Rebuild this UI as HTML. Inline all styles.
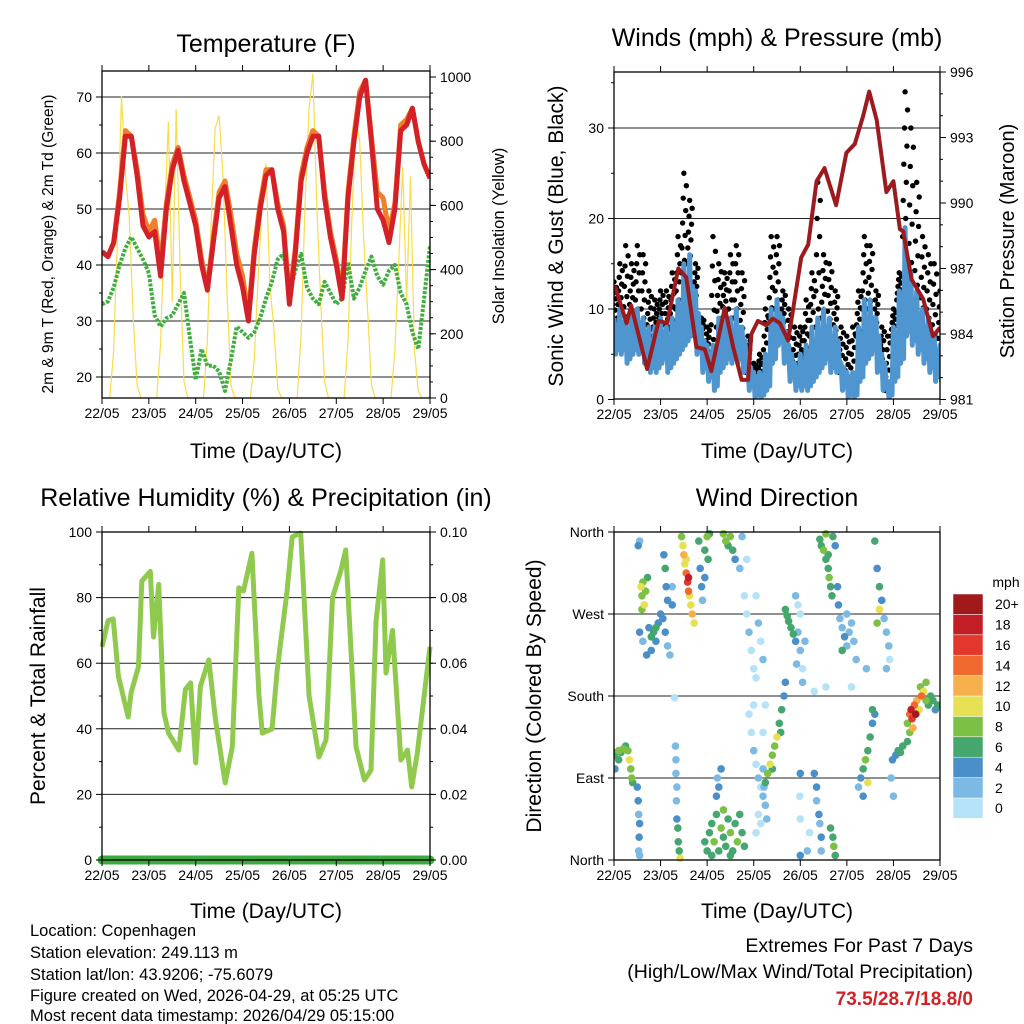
<!DOCTYPE html>
<html><head><meta charset="utf-8">
<style>
html,body{margin:0;padding:0;background:#fff;}
svg{display:block;font-family:"Liberation Sans",Arial,sans-serif;}
</style></head>
<body>
<svg id="chart" width="1024" height="1024" viewBox="0 0 1024 1024" xmlns="http://www.w3.org/2000/svg">
<rect width="1024" height="1024" fill="#fff"/>
<g id="g1"></g>
<g id="g2"></g>
<g id="g3"></g>
<g id="g4"></g>
<g id="info">
<text x="30" y="936" font-size="16.5">Location: Copenhagen</text>
<text x="30" y="958" font-size="16.5">Station elevation: 249.113 m</text>
<text x="30" y="980" font-size="16.5">Station lat/lon: 43.9206; -75.6079</text>
<text x="30" y="1001" font-size="16.5">Figure created on Wed, 2026-04-29, at 05:25 UTC</text>
<text x="30" y="1021" font-size="16.5">Most recent data timestamp: 2026/04/29 05:15:00</text>
<text x="973" y="952" font-size="19.5" text-anchor="end">Extremes For Past 7 Days</text>
<text x="973" y="978" font-size="19.5" text-anchor="end">(High/Low/Max Wind/Total Precipitation)</text>
<text x="973" y="1005" font-size="19" font-weight="bold" fill="#d42027" text-anchor="end">73.5/28.7/18.8/0</text>
</g>
</svg>
<script>
// ---------- data ----------
const dayLabels = ["22/05","23/05","24/05","25/05","26/05","27/05","28/05","29/05"];
// temperature, 3-hourly from 22/05 00 UTC
const tempRed = [42.4,41.5,44,52,63,63,56,47, 45,46,38,50,57,60.5,55,51, 47,40,35.5,44,52,54,47,40, 36,30,42,50,56,57,50,46, 33,42,55,60,63,63,52,45, 40,34,52,62,70,73,62,50, 48,44,50,64,65,68,62,58, 55.5];
const tempOrange = [42.4,41.5,44,53,64,63,57,49, 46,48,40,51,58,61,56,52, 48,41,36,45,53,55,49,42, 38,31,43,51,57,57,51,47, 34,43,56,61,64,63,53,46, 41,35,53,63,71,73,63,53, 52,46,51,65,66,68,62,58, 55.5];
const dewGreen = [33,33.5,36,40,43,45,43,41, 38.5,31,29,30.5,31,33,35,27, 19.5,25,22,22,21,17.5,23,29, 28,27,28,30.5,34,37,41,42, 35,39,42,36,34,33,37,35, 33,34,40.5,34,36,39,41.5,38, 36.5,39,40,35,33,28,25,34, 43.5];
// solar insolation, 2-hourly
const solar = [0,0,0,150,520,940,700,560,250,40,0,0, 0,0,0,170,560,860,300,900,400,50,0,0, 0,0,0,180,560,840,880,690,330,40,0,0, 0,0,0,120,380,600,730,350,220,30,0,0, 0,0,0,200,600,900,1010,600,300,50,0,0, 0,0,0,180,560,870,800,500,280,40,0,0, 0,0,0,150,430,720,300,690,150,20,0,0, 0];
// winds, 3-hourly
const windLo = [5,5,4,5,5,4,3,3, 4,3,4,5,6,7,5,3, 2,1,3,4,4,4,3,1, 0,0,1,4,6,4,2,1, 1,1,2,3,4,3,3,1, 0,0,2,4,5,3,1,0, 2,4,7,6,5,4,3,2, 2];
const windHi = [9,10,9,10,10,9,8,8, 9,8,9,11,15,16,12,8, 6,6,9,10,9,10,8,4, 3,3,5,10,11,9,6,4, 5,6,8,9,10,9,8,4, 3,3,8,11,11,9,5,2, 8,12,19,14,12,10,9,7, 6];
const gustHi = [13,15,17,15,17,16,12,11, 12,12,14,18,25,22,15,9, 8,18,15,14,16,17,14,7, 4,5,10,18,18,12,10,8, 8,11,14,24,16,15,12,8, 7,8,12,18,17,12,8,7, 10,14,34,30,24,18,16,15, 12];
const presTime = [0.02,0.27,0.37,0.71,0.96,1.14,1.38,1.55,1.77,1.95,2.09,2.38,2.56,2.74,2.88,2.95,3.09,3.27,3.41,3.56,3.74,4.02,4.17,4.35,4.52,4.77,4.99,5.17,5.35,5.48,5.64,5.85,6.0,6.14,6.21,6.39,6.64,6.85,7.0];
const presVal = [986.2,984.5,985.3,982.4,984.6,984.5,987,986.6,983.4,983.3,982.3,985.2,983.4,981.9,981.9,984,984.6,984.4,984.7,984.5,983.7,987.5,988.1,991,991.6,989.9,992.3,992.7,994,995.1,993.8,990.5,991,988.8,988.7,986.5,985.6,983.9,984.3];
// relative humidity
const rhTime = [0,0.13,0.24,0.35,0.56,0.62,0.78,0.85,1.03,1.1,1.21,1.32,1.42,1.64,1.78,1.89,2.0,2.1,2.28,2.42,2.63,2.78,2.92,3.02,3.2,3.35,3.42,3.63,3.74,3.95,4.06,4.24,4.42,4.63,4.78,4.92,5.1,5.2,5.31,5.42,5.6,5.74,5.85,5.99,6.06,6.2,6.38,6.52,6.61,6.73,7.0];
const rhVal = [65,73,73.5,56,43.6,51,59,85,88,68,84,45,38.7,33.5,52,54,29.6,53,61,43,23.5,34.5,83,82,93.5,50,38.7,40,58,82,98.5,99.7,50,31.4,36.6,80,88.4,94.5,65,34.5,24.4,27.4,73,91.5,57,70,30.5,33.5,22.3,32.6,65];
const precipTime = [0,7];
const precipVal = [0,0];
// wind direction scatter
const dirTime = [0,0.05,0.1,0.15,0.2,0.25,0.3,0.33,0.36,0.38,0.4,0.02,0.1, 0.5,0.52,0.53,0.55,0.54,0.53,0.55, 0.58,0.6,0.62,0.65,0.68,0.72,0.6, 0.55,0.62,0.75,0.8,0.85,0.9,0.95,1.0,1.1,1.15,1.2,0.7,0.8,0.9,1.05, 0.55,0.52, 1.07,1.1,1.12,1.15,1.25,1.25, 1.32,1.33,1.33,1.35,1.34,1.35,1.37,1.38,1.4,1.42, 1.3, 1.45,1.48,1.5,1.52,1.55,1.58,1.6,1.62,1.65,1.68,1.72,1.55,1.6, 1.82,1.85,1.88,1.9,1.95,2.0,2.02,1.95,2.05, 1.95,2.0,2.05,2.1,2.15,2.2,2.25,2.3,2.35,2.4,2.45,2.5,2.55,2.6,2.65,2.7,2.75,2.8,2.1,2.35,2.5,2.2,2.25,2.22,2.3, 2.35,2.4,2.45,2.5,2.55,2.6,2.7,2.75, 2.8,2.85,2.9,2.95,3.0,3.05,2.9,2.95,3.0,3.05,3.1,3.15,3.2,3.1,3.05,3.15,2.85,3.05,3.1,3.15,3.2,3.25,3.2,3.0, 3.25,3.3,3.35,3.4,3.45,3.5,3.55,3.6,3.65,3.68,3.58,3.4, 3.2,3.22,3.25,3.28, 3.68,3.72,3.75,3.8,3.85,3.9, 3.9,3.95,4.0,3.95,4.0,4.05,4.05,4.1,3.92, 4.0,4.3,4.35,4.35,4.4,4.42,4.45,4.45,3.99,4.0,4.0,4.15,4.2, 4.42,4.45,4.5,4.55,4.6,4.62,4.65,4.7,4.75,4.55,4.68,4.6, 4.65,4.7,4.72,4.75, 4.82,4.85,4.9,4.95,5.0,5.05,5.1,5.15,4.9,5.2,5.0,4.8, 5.25,5.3,5.35,5.4,5.45,5.5,5.55,5.6,5.35,5.45,5.55, 5.6,5.65,5.7,5.75,5.65,5.7, 5.8,5.85,5.9,5.92,5.85, 5.98,6.05,6.1,6.15,6.2,6.3,6.35,5.95,6.0, 6.3,6.35,6.38,6.4,6.45,6.5,6.55,6.6,6.65,6.7,6.75,6.8,6.85,6.9,6.95,6.42,6.48,6.58,6.7, 4.3,4.55,5.42,5.1];
const dirDeg = [115,118,120,118,122,125,120,110,100,90,85,100,110, 80,65,50,40,25,10,5, 300,290,305,280,295,310,275, 250,240,255,245,250,240,260,270,250,235,225,225,230,255,265, 350,345, 335,320,300,285,300,280, 125,110,95,80,65,45,35,20,10,2, 178, 355,345,335,325,315,305,295,290,280,270,260,330,310, 350,320,300,285,340,355,330,310,358, 20,10,30,40,20,50,10,35,25,15,45,30,10,40,20,50,30,15,5,55,5,70,80,90,100, 358,350,345,355,340,330,320,355, 290,270,250,230,210,200,160,140,120,105,90,80,70,50,30,40,330,290,260,240,220,170,140,170, 85,95,105,115,125,135,150,165,180,195,140,100, 100,80,60,45, 275,268,262,255,248,240, 290,280,270,250,230,210,195,240,215, 95,95,80,65,50,40,25,10,70,45,5,10,30, 352,345,340,330,320,310,300,355,345,358,290,335, 35,25,15,5, 280,265,255,245,235,250,260,240,230,220,270,300, 80,90,100,110,120,135,150,160,70,85,165, 350,320,300,285,260,275, 265,250,235,220,210, 110,115,120,118,125,130,140,90,70, 150,160,165,155,170,175,165,180,185,175,170,180,175,165,170,145,160,190,195, 185,190,210,190];
const dirSpd = [7,7,8,7,8,7,9,10,9,8,6,5,6, 4,5,3,4,4,3,3, 10,9,8,10,9,7,8, 4,3,5,6,7,5,4,4,4,3,3,4,5,6,5, 3,4, 4,6,5,4,3,4, 2,3,2,2,3,5,6,6,7,10, 1, 8,10,12,11,14,16,14,11,10,12,10,10,18, 6,5,4,3,7,8,6,5,7, 6,7,7,6,8,7,6,8,7,6,7,8,7,6,9,6,7,6,6,8,7,5,4,3,4, 8,8,7,9,6,4,3,3, 1,1,2,1,1,0,1,1,2,1,2,1,2,1,0,1,0,1,2,1,2,0,1,0, 7,8,10,9,8,10,7,6,5,4,6,6, 3,3,2,3, 6,7,6,7,6,5, 2,1,1,3,2,1,2,3,3, 4,4,4,3,4,3,4,3,1,1,4,2,1, 6,7,8,7,6,8,7,6,5,9,6,7, 6,7,8,6, 4,3,2,4,3,2,3,2,6,3,2,4, 3,4,6,8,7,6,5,4,5,10,7, 6,5,7,4,8,10, 2,3,2,1,2, 4,5,6,7,6,7,8,3,3, 9,14,18,16,14,12,10,14,10,8,6,7,6,5,6,13,20,9,8, 1,1,2,1];
const speedColors = ["#b5e2f7","#7cb9e3","#4a8fc9","#45a66e","#7cc045","#e6e052","#f6b04b","#f0692e","#e3362c","#c21e26","#a01a1c"];
const speedLabels = ["0","2","4","6","8","10","12","14","16","18","20+"];

// ---------- helpers ----------
const NS = "http://www.w3.org/2000/svg";
function mk(parent, tag, attrs, txt){
  const e = document.createElementNS(NS, tag);
  for (const k in attrs) e.setAttribute(k, attrs[k]);
  if (txt !== undefined) e.textContent = txt;
  parent.appendChild(e);
  return e;
}
function lin(d0,d1,r0,r1){ return v => r0 + (v-d0)*(r1-r0)/(d1-d0); }

function frame(g, X0, X1, Y0, Y1, xs, title, titleY, xtitleY){
  for (let d=0; d<=7; d++){
    const x = xs(d);
    const t1 = mk(g,"line",{x1:x,x2:x,y1:Y1,y2:Y1+6,stroke:"#000","stroke-width":1});
    
    
    mk(g,"line",{x1:x,x2:x,y1:Y0,y2:Y0-6,stroke:"#000","stroke-width":1});
    const lb = mk(g,"text",{x:x,y:Y1+20,"font-size":14,"text-anchor":"middle"},dayLabels[d]);
    
    
  }
  const tt = mk(g,"text",{x:(X0+X1)/2,y:titleY,"font-size":25,"text-anchor":"middle"},title);
  
  
  const xt = mk(g,"text",{x:(X0+X1)/2,y:xtitleY,"font-size":21,"text-anchor":"middle"},"Time (Day/UTC)");
  
  
}
function border(g,X0,X1,Y0,Y1){
  const b = mk(g,"rect",{x:X0,y:Y0,width:X1-X0,height:Y1-Y0,fill:"none",stroke:"#000","stroke-width":1.3});
  
  
}
function yTicks(g, side, X, ys, majors, minors, labels, fs){
  const dir = side==="left" ? -1 : 1;
  minors.forEach(v=>{ const y=ys(v); mk(g,"line",{x1:X,x2:X+dir*3,y1:y,y2:y,stroke:"#000","stroke-width":1}); });
  majors.forEach((v,i)=>{
    const y=ys(v);
    mk(g,"line",{x1:X,x2:X+dir*6,y1:y,y2:y,stroke:"#000","stroke-width":1});
    const t = mk(g,"text",{x:X+dir*10,y:y+5,"font-size":fs||14,"text-anchor":side==="left"?"end":"start"},labels[i]);
    
    
  });
}
function grid(g,X0,X1,ys,vals){
  vals.forEach(v=>{
    const l = mk(g,"line",{x1:X0,x2:X1,y1:ys(v),y2:ys(v),stroke:"#222","stroke-width":1});
    
    
  });
}
function vtitle(g,x,y,txt,fs,name){
  const t = mk(g,"text",{x:x,y:y,"font-size":fs,"text-anchor":"middle",transform:`rotate(-90 ${x} ${y})`},txt);
  
  
}
function path(pts){ return pts.map((p,i)=>(i?"L":"M")+p[0].toFixed(1)+","+p[1].toFixed(1)).join(""); }
function range(a,b,s){ const r=[]; for(let v=a; v<=b+1e-9; v+=s) r.push(+v.toFixed(4)); return r; }

// ---------- panel 1: temperature ----------
(function(){
  const g = document.getElementById("g1");
  const X0=102,X1=430,Y0=71,Y1=398;
  const xs = lin(0,7,X0,X1);
  const ys = lin(20,70,377,97);
  const ysr = lin(0,1000,398,77);
  const clip = mk(g,"clipPath",{id:"c1"}); mk(clip,"rect",{x:X0,y:Y0,width:X1-X0,height:Y1-Y0});
  grid(g,X0,X1,ys,[20,30,40,50,60,70]);
  const pg = mk(g,"g",{"clip-path":"url(#c1)"});
  const sp = mk(pg,"path",{d:path(solar.map((v,i)=>[xs(i/12),ysr(v)])),fill:"none",stroke:"#f7dd4a","stroke-width":1.2});
  
  
  const gp = mk(pg,"path",{d:path(dewGreen.map((v,i)=>[xs(i/8),ys(v)])),fill:"none",stroke:"#3fae3f","stroke-width":4,"stroke-dasharray":"3 1.5","stroke-linejoin":"round"});
  
  
  const op = mk(pg,"path",{d:path(tempOrange.map((v,i)=>[xs(i/8),ys(v)])),fill:"none",stroke:"#f07f2a","stroke-width":5,"stroke-linejoin":"round"});
  
  
  const rp = mk(pg,"path",{d:path(tempRed.map((v,i)=>[xs(i/8),ys(v)])),fill:"none",stroke:"#d42027","stroke-width":5,"stroke-linejoin":"round"});
  
  
  border(g,X0,X1,Y0,Y1);
  yTicks(g,"left",X0,ys,[20,30,40,50,60,70],[25,35,45,55,65],["20","30","40","50","60","70"]);
  yTicks(g,"right",X1,ysr,[0,200,400,600,800,1000],range(50,950,50),["0","200","400","600","800","1000"]);
  frame(g,X0,X1,Y0,Y1,xs,"Temperature (F)",52,458);
  vtitle(g,53,244,"2m & 9m T (Red, Orange) & 2m Td (Green)",15.5,"y-axis-title-left");
  vtitle(g,504,236,"Solar Insolation (Yellow)",16.5,"y-axis-title-right");
})();

// ---------- panel 2: winds ----------
(function(){
  const g = document.getElementById("g2");
  const X0=614,X1=940,Y0=72,Y1=399;
  const xs = lin(0,7,X0,X1);
  const ys = lin(0,30,399.5,128);
  const ysr = lin(981,996,399.5,72);
  const clip = mk(g,"clipPath",{id:"c2"}); mk(clip,"rect",{x:X0,y:Y0,width:X1-X0,height:Y1-Y0});
  grid(g,X0,X1,ys,[10,20,30]);
  const pg = mk(g,"g",{"clip-path":"url(#c2)"});
  gustHi.forEach((v,i)=>{
    const lo = windHi[i]-1;
    for (let k=0;k<9;k++){
      const val = lo + (v-lo)*k/8;
      const dt = ((k*5)%9-4)/9*0.12;
      const c = mk(pg,"circle",{cx:xs(i/8+dt),cy:ys(val),r:2.7,fill:"#000"});
      
      
    }
  });
  const zz = [];
  windLo.forEach((v,i)=>{ zz.push([xs(i/8),ys(windHi[i])]); zz.push([xs(i/8+1/32),ys(v)]); zz.push([xs(i/8+1/16),ys((v+windHi[i])/2+1)]); zz.push([xs(i/8+3/32),ys(v+0.5)]); });
  const bp = mk(pg,"path",{d:path(zz),fill:"none",stroke:"#4f95d0","stroke-width":5,"stroke-linejoin":"round"});
  
  
  const pp = mk(pg,"path",{d:path(presVal.map((v,i)=>[xs(presTime[i]),ysr(v)])),fill:"none",stroke:"#9c1b1e","stroke-width":4,"stroke-linejoin":"round"});
  
  
  border(g,X0,X1,Y0,Y1);
  yTicks(g,"left",X0,ys,[0,10,20,30],[5,15,25,35],["0","10","20","30"]);
  yTicks(g,"right",X1,ysr,[981,984,987,990,993,996],range(982,995,1),["981","984","987","990","993","996"]);
  frame(g,X0,X1,Y0,Y1,xs,"Winds (mph) & Pressure (mb)",46,458);
  vtitle(g,563,236,"Sonic Wind & Gust (Blue, Black)",21,"y-axis-title-left");
  vtitle(g,1014,241,"Station Pressure (Maroon)",20,"y-axis-title-right");
})();

// ---------- panel 3: humidity ----------
(function(){
  const g = document.getElementById("g3");
  const X0=102,X1=430,Y0=532,Y1=860;
  const xs = lin(0,7,X0,X1);
  const ys = lin(0,100,860,532);
  const ysr = lin(0,0.1,860,532);
  grid(g,X0,X1,ys,[20,40,60,80]);
  const rp = mk(g,"path",{d:path(rhVal.map((v,i)=>[xs(rhTime[i]),ys(v)])),fill:"none",stroke:"#8fca4e","stroke-width":5,"stroke-linejoin":"round"});
  
  
  const pr = mk(g,"path",{d:path(precipVal.map((v,i)=>[xs(precipTime[i]),ysr(v)])),fill:"none",stroke:"#3daa3d","stroke-width":9,"stroke-linecap":"round"});
  
  
  border(g,X0,X1,Y0,Y1);
  yTicks(g,"left",X0,ys,[0,20,40,60,80,100],[10,30,50,70,90],["0","20","40","60","80","100"]);
  yTicks(g,"right",X1,ysr,[0,0.02,0.04,0.06,0.08,0.1],range(0.01,0.09,0.01),["0.00","0.02","0.04","0.06","0.08","0.10"]);
  frame(g,X0,X1,Y0,Y1,xs,"Relative Humidity (%) & Precipitation (in)",506,918);
  vtitle(g,45,696,"Percent & Total Rainfall",21,"y-axis-title-left");
})();

// ---------- panel 4: wind direction ----------
(function(){
  const g = document.getElementById("g4");
  const X0=614,X1=940,Y0=532,Y1=860;
  const xs = lin(0,7,X0,X1);
  const ys = lin(0,360,860,532);
  grid(g,X0,X1,ys,[90,180,270]);
  const clip = mk(g,"clipPath",{id:"c4"}); mk(clip,"rect",{x:X0,y:Y0-4,width:X1-X0,height:Y1-Y0+8});
  const pg = mk(g,"g",{"clip-path":"url(#c4)"});
  const order = dirSpd.map((s,i)=>i).sort((a,b)=>dirSpd[a]-dirSpd[b]);
  order.forEach(i=>{
    const ci = Math.min(10, Math.floor(dirSpd[i]/2));
    const c = mk(pg,"circle",{cx:xs(dirTime[i]),cy:ys(dirDeg[i]),r:3.8,fill:speedColors[ci]});
    
    
  });
  border(g,X0,X1,Y0,Y1);
  yTicks(g,"left",X0,ys,[0,90,180,270,360],[],["North","East","South","West","North"]);
  frame(g,X0,X1,Y0,Y1,xs,"Wind Direction",506,918);
  vtitle(g,541,696,"Direction (Colored By Speed)",21,"y-axis-title-left");
  const cb = mk(g,"g",{});
  
  
  const bx=953,bw=30,bt=594,bh=20.4;
  speedColors.forEach((c,i)=>{
    const y = bt + (10-i)*bh;
    const r = mk(cb,"rect",{x:bx,y:y,width:bw,height:bh,fill:c,stroke:"#fff","stroke-width":0.5});
    
    
    const t = mk(cb,"text",{x:bx+bw+12,y:y+bh/2+5,"font-size":14},speedLabels[i]);
    
    
  });
  const u = mk(cb,"text",{x:1006,y:587,"font-size":14,"text-anchor":"middle"},"mph");
  
  
})();
</script>
</body></html>
